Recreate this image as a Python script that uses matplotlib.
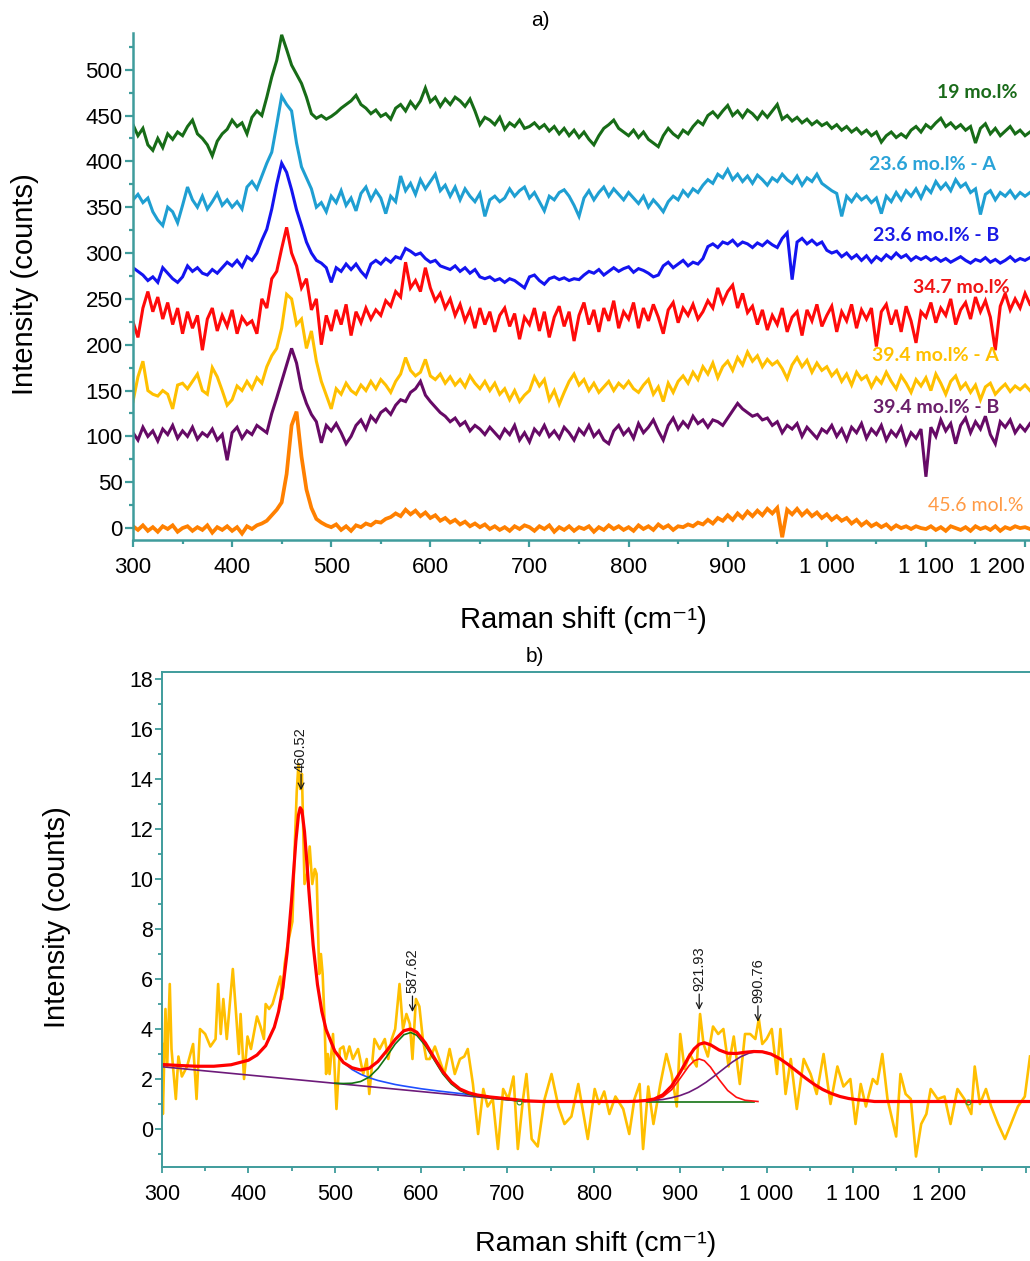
import numpy as np
import matplotlib
matplotlib.use("Agg")
import matplotlib.pyplot as plt
from matplotlib.ticker import MultipleLocator

plt.rcParams['font.family'] = ['Liberation Sans', 'DejaVu Sans']

# ---------------- panel a: stacked Raman spectra (read every 5 cm-1) ----------------
shiftA = np.arange(300, 1210, 5)

green19 = [440, 428, 436, 418, 412, 425, 415, 430, 424, 432, 428, 438, 445, 430, 425, 418, 406, 422, 430, 435,
           445, 438, 442, 430, 448, 455, 450, 470, 492, 510, 538, 522, 505, 495, 485, 470, 452, 447, 450, 446,
           449, 453, 458, 462, 466, 472, 462, 458, 452, 456, 449, 452, 446, 458, 462, 455, 465, 458, 466, 480,
           465, 470, 460, 468, 462, 470, 466, 460, 468, 455, 440, 448, 445, 440, 448, 435, 442, 438, 445, 436,
           438, 442, 436, 440, 433, 438, 430, 436, 428, 434, 426, 432, 424, 418, 428, 436, 440, 445, 436, 432,
           428, 434, 426, 432, 424, 420, 416, 428, 436, 430, 426, 434, 430, 438, 444, 440, 450, 454, 448, 455,
           461, 450, 455, 448, 456, 452, 446, 454, 448, 455, 462, 446, 450, 444, 448, 442, 446, 440, 444, 439,
           442, 436, 440, 434, 438, 432, 436, 430, 434, 428, 432, 421, 428, 432, 426, 430, 426, 434, 438, 432,
           440, 436, 442, 447, 438, 442, 436, 440, 434, 438, 420, 436, 441, 430, 436, 428, 433, 438, 430, 434,
           428, 432]

blue236A = [358, 364, 355, 360, 345, 336, 330, 350, 345, 333, 352, 372, 358, 350, 362, 348, 356, 365, 352, 358,
            350, 356, 348, 372, 378, 370, 384, 398, 410, 440, 471, 462, 455, 420, 394, 382, 370, 350, 355, 345,
            362, 355, 368, 352, 360, 346, 365, 372, 358, 368, 360, 343, 362, 356, 384, 368, 376, 364, 380, 370,
            378, 386, 368, 374, 362, 372, 358, 370, 362, 356, 365, 340, 358, 362, 356, 360, 370, 362, 368, 372,
            360, 366, 356, 346, 362, 358, 366, 369, 362, 352, 340, 360, 368, 358, 366, 372, 362, 370, 364, 358,
            366, 360, 354, 362, 350, 358, 352, 345, 356, 362, 358, 368, 362, 370, 366, 374, 380, 376, 386, 382,
            391, 380, 386, 378, 384, 376, 385, 380, 374, 382, 378, 386, 380, 376, 384, 374, 382, 378, 386, 376,
            372, 368, 365, 340, 362, 356, 364, 358, 362, 355, 360, 343, 362, 356, 366, 358, 368, 362, 370, 360,
            372, 366, 378, 370, 376, 368, 380, 372, 376, 366, 370, 342, 364, 368, 358, 366, 362, 368, 360, 366,
            362, 366]

blue236B = [284, 280, 276, 270, 274, 268, 284, 278, 272, 268, 274, 286, 280, 284, 278, 276, 282, 278, 284, 290,
            286, 292, 285, 296, 292, 300, 314, 326, 348, 375, 398, 388, 369, 347, 330, 312, 300, 292, 289, 284,
            268, 284, 280, 288, 282, 288, 280, 274, 288, 292, 288, 294, 290, 296, 294, 305, 302, 298, 300, 294,
            290, 292, 286, 284, 282, 286, 280, 284, 278, 282, 274, 272, 274, 270, 272, 268, 272, 270, 266, 262,
            274, 276, 270, 266, 272, 274, 271, 273, 270, 272, 271, 276, 280, 278, 282, 276, 280, 284, 280, 283,
            285, 279, 283, 281, 278, 274, 276, 286, 290, 284, 288, 292, 286, 290, 288, 294, 307, 310, 306, 312,
            310, 314, 308, 312, 310, 306, 311, 308, 313, 309, 306, 316, 322, 271, 312, 316, 310, 314, 309, 312,
            303, 300, 302, 296, 300, 294, 298, 292, 297, 290, 296, 292, 298, 294, 300, 295, 298, 292, 296, 293,
            296, 292, 295, 291, 294, 290, 293, 296, 292, 289, 293, 291, 295, 290, 293, 289, 292, 296, 291, 294,
            292, 295]

red347 = [225, 208, 240, 258, 236, 252, 228, 246, 222, 240, 212, 236, 218, 232, 194, 228, 240, 215, 232, 220,
          238, 212, 230, 222, 226, 212, 250, 240, 272, 280, 305, 328, 300, 286, 262, 272, 238, 250, 200, 232,
          215, 238, 222, 244, 210, 236, 224, 240, 228, 238, 232, 248, 242, 258, 252, 290, 262, 270, 258, 284,
          262, 248, 256, 240, 250, 232, 244, 226, 238, 218, 240, 222, 236, 214, 232, 240, 220, 234, 206, 230,
          222, 240, 215, 236, 208, 230, 242, 220, 236, 204, 232, 246, 222, 238, 214, 240, 226, 248, 218, 236,
          228, 246, 218, 240, 226, 244, 230, 212, 238, 246, 224, 240, 232, 244, 228, 236, 248, 240, 262, 246,
          258, 265, 240, 256, 235, 242, 222, 238, 216, 232, 222, 240, 214, 230, 236, 210, 238, 226, 244, 220,
          232, 242, 214, 236, 226, 244, 218, 238, 228, 240, 198, 236, 244, 222, 238, 214, 242, 226, 202, 236,
          230, 246, 224, 240, 232, 250, 222, 238, 246, 228, 252, 236, 248, 230, 194, 242, 256, 238, 250, 240,
          256, 244]

yellow394A = [138, 165, 182, 150, 146, 144, 150, 146, 130, 156, 158, 152, 160, 168, 150, 146, 175, 165, 150, 134,
              140, 155, 150, 160, 152, 164, 158, 176, 188, 196, 218, 255, 250, 222, 228, 196, 215, 182, 160, 145,
              130, 152, 146, 158, 150, 146, 156, 150, 160, 152, 162, 156, 148, 160, 168, 186, 172, 166, 170, 184,
              166, 162, 168, 158, 165, 156, 162, 154, 166, 158, 152, 160, 150, 158, 146, 152, 140, 150, 138, 145,
              150, 165, 155, 162, 140, 150, 135, 148, 160, 168, 156, 162, 150, 158, 148, 154, 160, 150, 158, 153,
              160, 152, 148, 156, 162, 146, 154, 138, 158, 148, 160, 166, 158, 170, 162, 176, 168, 180, 164, 176,
              182, 172, 186, 178, 192, 182, 188, 176, 184, 178, 182, 174, 163, 178, 186, 176, 183, 170, 180, 172,
              176, 166, 172, 160, 168, 156, 170, 162, 166, 154, 164, 158, 170, 160, 152, 166, 158, 148, 162, 155,
              164, 150, 168, 158, 146, 160, 166, 152, 158, 148, 156, 140, 154, 158, 146, 152, 157, 149, 155, 151,
              156, 150]

purple394B = [104, 96, 110, 100, 106, 95, 108, 102, 112, 98, 106, 100, 110, 97, 104, 100, 108, 96, 102, 74,
              104, 110, 98, 106, 102, 112, 108, 104, 125, 142, 160, 178, 196, 180, 152, 136, 124, 116, 93, 112,
              106, 114, 104, 92, 100, 112, 118, 108, 122, 116, 126, 130, 124, 134, 140, 138, 148, 152, 160, 145,
              138, 132, 126, 122, 116, 120, 112, 116, 106, 112, 108, 102, 110, 104, 98, 108, 102, 112, 96, 104,
              94, 108, 102, 112, 100, 106, 98, 110, 104, 96, 108, 102, 112, 100, 106, 96, 92, 106, 112, 102,
              108, 98, 114, 104, 110, 118, 106, 96, 112, 120, 108, 116, 110, 122, 114, 118, 110, 118, 116, 112,
              120, 128, 136, 130, 126, 122, 124, 118, 120, 112, 116, 104, 112, 108, 114, 100, 110, 104, 98, 108,
              104, 112, 100, 108, 96, 110, 104, 114, 98, 108, 102, 112, 96, 106, 100, 110, 92, 104, 98, 108,
              56, 110, 100, 118, 106, 114, 92, 112, 120, 104, 116, 108, 122, 102, 92, 116, 110, 118, 104, 112,
              106, 114]

orange456 = [2, -2, 3, -3, 1, -4, 2, -1, 3, -4, 0, 2, -3, 1, -2, 3, -5, 1, -2, 2,
             -3, 1, -6, 2, -1, 3, 5, 8, 14, 20, 28, 59, 112, 127, 78, 42, 22, 10, 6, 3,
             1, 4, -2, 2, -3, 3, 1, 5, 3, 7, 6, 10, 12, 16, 13, 20, 15, 19, 13, 17,
             11, 14, 8, 11, 6, 9, 4, 7, 2, 5, 1, 4, -1, 2, -2, 1, -3, 2, -1, 3,
             1, -3, 2, -1, 3, -4, 1, -2, 2, -3, 1, -1, 2, -4, 1, -2, 3, -1, 2, -2,
             1, -3, 3, -1, 2, -2, 4, 0, 3, -2, 2, 1, 4, 2, 6, 4, 9, 5, 11, 8,
             14, 9, 16, 11, 18, 13, 19, 14, 21, 16, 22, -10, 20, 15, 21, 14, 19, 13, 17, 11,
             15, 9, 13, 8, 11, 5, 9, 3, 7, 2, 5, 1, 4, -1, 3, 0, 2, -1, 2, 0,
             -1, 2, -2, 1, -3, 2, 0, -2, 1, -3, 2, -1, 1, -2, 2, -3, 1, -1, 2, 0,
             1, -1]

seriesA = [green19, blue236A, blue236B, red347, yellow394A, purple394B, orange456]
colorsA = ['#176c17', '#1f9fd2', '#1414f0', '#ff0a0a', '#ffc000', '#660a66', '#ff8000']
widthsA = [2.2, 2.2, 2.2, 2.2, 2.2, 2.2, 2.7]
labelsA = ['19 mo.l%', '23.6 mo.l% - A', '23.6 mo.l% - B', '34.7 mo.l%',
           '39.4 mo.l% - A', '39.4 mo.l% - B', '45.6 mol.%']
labelColors = ['#1a6b1a', '#2aa3d8', '#1a1ae6', '#f01515', '#ffc000', '#6b1f6b', '#ff9a45']
labelPos = [(1111, 475), (1043, 397), (1047, 319), (1087, 262), (1046, 188), (1047, 131), (1102, 25)]
labelBold = [True, True, True, True, True, True, False]

# ---------------- panel b: spectrum with peak fit ----------------
xb = [300, 301, 304, 306, 309, 311, 316, 319, 323, 329, 336, 340, 344, 350, 356, 362, 365, 368, 371, 375,
      382, 386, 389, 391, 395, 399, 403, 410, 414, 418, 420, 424, 428, 433, 437, 439, 442, 445, 448, 451,
      454, 456, 458, 460, 462, 465, 468, 471, 474, 477, 479, 482, 484, 486, 488, 490, 492, 494, 498, 502,
      506, 510, 513, 517, 521, 527, 533, 537, 540, 546, 552, 558, 562, 566, 570, 575, 579, 583, 587, 590,
      594, 598, 602, 606, 610, 616, 621, 627, 633, 639, 645, 650, 654, 660, 666, 672, 677, 683, 689, 695,
      701, 707, 712, 718, 722, 728, 735, 743, 751, 759, 766, 774, 782, 788, 793, 801, 806, 812, 818, 825,
      834, 841, 847, 853, 857, 863, 869, 877, 884, 890, 896, 900, 905, 911, 919, 923, 927, 932, 938, 944,
      950, 956, 962, 969, 975, 981, 987, 991, 995, 1000, 1006, 1012, 1016, 1022, 1028, 1035, 1043, 1051, 1058, 1066,
      1074, 1082, 1089, 1097, 1103, 1109, 1115, 1123, 1128, 1134, 1140, 1150, 1155, 1161, 1167, 1173, 1179, 1185, 1190, 1198,
      1206, 1213, 1221, 1229, 1237, 1241, 1247, 1254, 1260, 1268, 1276, 1283, 1291, 1299, 1305]
yb = [3.4, 0.6, 4.8, 2.5, 5.8, 3.2, 1.2, 2.9, 2.1, 2.5, 3.4, 1.2, 4.0, 3.8, 3.3, 3.6, 5.8, 3.8, 5.2, 3.6,
      6.4, 4.5, 3.0, 4.6, 2.0, 3.7, 3.2, 4.5, 4.1, 3.6, 5.0, 4.8, 5.0, 5.6, 6.1, 5.2, 6.6, 7.3, 7.8, 8.3,
      11.6, 13.5, 14.6, 13.6, 14.2, 9.8, 10.2, 11.3, 9.8, 10.4, 10.2, 6.2, 7.0, 6.2, 4.5, 2.2, 3.0, 2.2, 3.8, 0.8,
      3.2, 3.3, 2.8, 3.3, 2.8, 3.2, 2.2, 2.8, 1.4, 3.6, 3.2, 3.6, 2.8, 3.6, 4.0, 5.8, 4.0, 4.6, 4.2, 2.8,
      5.2, 4.9, 3.6, 2.8, 2.8, 3.3, 2.8, 2.2, 3.2, 2.2, 2.8, 2.9, 3.2, 1.8, -0.2, 1.6, 0.9, 1.2, -0.8, 1.6,
      1.2, 2.1, -0.8, 1.2, 2.2, -0.4, -0.7, 1.2, 2.2, 0.9, 0.2, 0.5, 1.8, 0.6, -0.4, 1.6, 1.0, 1.5, 0.6, 1.3,
      0.8, -0.2, 1.2, 1.8, -0.8, 1.7, 0.2, 1.8, 3.0, 2.2, 0.9, 3.8, 2.4, 3.0, 2.5, 4.6, 3.4, 2.9, 4.1, 3.8,
      4.0, 2.5, 3.7, 1.8, 3.8, 3.8, 3.6, 4.4, 3.4, 3.6, 4.0, 2.2, 4.0, 1.4, 2.8, 0.8, 2.8, 2.2, 1.4, 3.0,
      1.0, 2.5, 1.7, 2.0, 0.2, 1.8, 0.9, 2.0, 1.8, 3.0, 1.2, -0.3, 2.2, 1.4, 1.2, -1.1, 0.2, 0.6, 1.6, 1.2,
      1.3, 0.2, 1.6, 1.2, 0.6, 2.5, 1.0, 1.6, 0.9, 0.2, -0.4, 0.2, 0.9, 1.3, 2.9]

# fit curves
fitX = [300, 320, 340, 360, 380, 400, 410, 420, 430, 435, 440, 445, 450, 452, 455, 458, 460, 462, 465, 468,
        470, 475, 480, 485, 490, 500, 510, 520, 530, 540, 550, 560, 570, 580, 588, 595, 605, 615, 625, 635,
        645, 655, 665, 680, 700, 720, 740, 840, 850, 860, 870, 880, 890, 900, 910, 916, 922, 928, 935, 945,
        955, 965, 975, 985, 995, 1005, 1015, 1025, 1035, 1045, 1055, 1065, 1075, 1085, 1095, 1105, 1115, 1125, 1305]
fitY = [2.58, 2.54, 2.51, 2.51, 2.57, 2.75, 2.96, 3.33, 4.07, 4.70, 5.66, 7.10, 9.15, 10.10, 11.52, 12.56, 12.85, 12.74, 11.89, 10.54,
        9.56, 7.36, 5.78, 4.71, 3.98, 3.12, 2.66, 2.45, 2.36, 2.43, 2.70, 3.12, 3.58, 3.93, 4.00, 3.87, 3.44, 2.86, 2.30, 1.88,
        1.60, 1.45, 1.36, 1.28, 1.21, 1.13, 1.10, 1.10, 1.11, 1.14, 1.20, 1.37, 1.72, 2.27, 2.89, 3.20, 3.39, 3.45, 3.37, 3.16,
        3.03, 3.02, 3.07, 3.10, 3.09, 3.00, 2.82, 2.58, 2.31, 2.04, 1.79, 1.58, 1.42, 1.30, 1.22, 1.17, 1.14, 1.10, 1.10]

baseX = [300, 720, 735]
baseY = [2.49, 1.10, 1.10]

peak1X = [490, 500, 510, 520, 530, 540, 550, 560, 570, 580, 590, 600, 620, 640, 660, 680, 700, 720]
peak1Y = [3.98, 3.12, 2.66, 2.38, 2.19, 2.05, 1.94, 1.86, 1.78, 1.72, 1.665, 1.61, 1.52, 1.44, 1.36, 1.28, 1.21, 1.13]

peak2X = [500, 510, 520, 530, 540, 550, 560, 570, 580, 588, 595, 605, 615, 625, 635, 645, 655, 665, 680, 700, 720]
peak2Y = [1.83, 1.82, 1.83, 1.90, 2.08, 2.42, 2.89, 3.40, 3.77, 3.86, 3.75, 3.33, 2.77, 2.21, 1.80, 1.54, 1.39, 1.31, 1.24, 1.17, 1.10]
flat2X = [862, 985]
flat2Y = [1.10, 1.10]

peak3X = [860, 870, 880, 890, 900, 910, 916, 922, 928, 935, 945, 955, 965, 975, 990]
peak3Y = [1.11, 1.16, 1.29, 1.57, 2.03, 2.52, 2.73, 2.80, 2.73, 2.48, 1.98, 1.54, 1.27, 1.15, 1.10]

peak4X = [860, 870, 880, 890, 900, 910, 920, 930, 940, 950, 960, 970, 980, 990, 1000]
peak4Y = [1.12, 1.15, 1.18, 1.25, 1.34, 1.47, 1.65, 1.87, 2.13, 2.40, 2.67, 2.89, 3.04, 3.10, 3.06]

anchorX = [713, 1233]
anchorY = [1.10, 1.10]

peakLabels = ['460.52', '587.62', '921.93', '990.76']
peakArrowX = [461, 590, 922, 990]
peakArrowY = [13.55, 4.68, 4.76, 4.29]

teal = '#3f9c9c'
W, H = 1030, 1261

fig = plt.figure(figsize=(W / 100, H / 100), dpi=100)

# ---------- panel a ----------
axA = fig.add_axes([133 / W, 1 - 540 / H, 1 - 133 / W, (540 - 33) / H])
for ys, c, lw in zip(seriesA, colorsA, widthsA):
    axA.plot(shiftA, ys, color=c, lw=lw, solid_joinstyle='miter')

for lab, c, (lx, ly), bold in zip(labelsA, labelColors, labelPos, labelBold):
    axA.text(lx, ly, lab, color=c, fontsize=14, family=['Lato', 'DejaVu Sans'],
             fontweight='bold' if bold else 'normal', ha='left', va='center')

axA.set_xlim(300, 1205)
axA.set_ylim(-13, 540)
axA.spines['top'].set_visible(False)
axA.spines['right'].set_visible(False)
for s in ['left', 'bottom']:
    axA.spines[s].set_color(teal)
    axA.spines[s].set_linewidth(1.8)
ticksA = list(range(300, 1201, 100))
axA.set_xticks(ticksA, [str(t) if t < 1000 else '1 ' + str(t)[1:] for t in ticksA])
axA.xaxis.set_minor_locator(MultipleLocator(50))
axA.set_yticks(range(0, 501, 50))
axA.yaxis.set_minor_locator(MultipleLocator(25))
axA.tick_params(axis='both', which='both', color=teal, width=1.6, direction='out', labelsize=16)
axA.tick_params(axis='y', which='major', length=6, pad=1.5)
axA.tick_params(axis='y', which='minor', length=3)
axA.tick_params(axis='x', which='major', length=5, pad=7)
axA.tick_params(axis='x', which='minor', length=3)
axA.get_xticklabels()[-1].set_ha('right')

fig.text(540 / W, 1 - 20 / H, 'a)', fontsize=15, ha='center', va='center')
fig.text(583 / W, 1 - 620 / H, 'Raman shift (cm⁻¹)', fontsize=21, ha='center', va='center')
fig.text(25 / W, 1 - 284 / H, 'Intensity (counts)', fontsize=21, rotation=90, ha='center', va='center')

# ---------- panel b ----------
axB = fig.add_axes([162 / W, 1 - 1167 / H, 1 - 162 / W, (1167 - 672) / H])
axB.plot(xb, yb, color='#ffbf00', lw=1.9)
axB.plot(baseX, baseY, color='#6d1a7a', lw=1.2)
axB.plot(peak1X, peak1Y, color='#1f4fff', lw=1.2)
axB.plot(peak2X, peak2Y, color='#137313', lw=1.2)
axB.plot(flat2X, flat2Y, color='#137313', lw=1.2)
axB.plot(peak3X, peak3Y, color='#ff1010', lw=1.2)
axB.plot(peak4X, peak4Y, color='#6d1a7a', lw=1.2)
axB.plot(fitX, fitY, color='#ff0000', lw=2.3)
axB.plot(anchorX, anchorY, 'o', ms=3.5, mfc='none', mec='#2a9a2a', mew=0.8)

for lab, px, py in zip(peakLabels, peakArrowX, peakArrowY):
    axB.annotate(lab, xy=(px, py), xytext=(px, py + 0.75), rotation=90, ha='center', va='bottom',
                 fontsize=10.5, color='#1a1a1a',
                 arrowprops=dict(arrowstyle='->', color='#1a1a1a', lw=0.9, shrinkA=0, shrinkB=0))

axB.set_xlim(300, 1305)
axB.set_ylim(-1.52, 18.28)
axB.spines['right'].set_visible(False)
for s in ['left', 'bottom', 'top']:
    axB.spines[s].set_color(teal)
    axB.spines[s].set_linewidth(1.4)
ticksB = list(range(300, 1301, 100))
axB.set_xticks(ticksB, [str(t) if t < 1000 else ('1 ' + str(t)[1:] if t < 1300 else '') for t in ticksB])
axB.xaxis.set_minor_locator(MultipleLocator(50))
axB.set_yticks(range(0, 19, 2))
axB.yaxis.set_minor_locator(MultipleLocator(1))
axB.tick_params(axis='both', which='both', color=teal, width=1.3, direction='out', labelsize=15.5)
axB.tick_params(axis='y', which='major', length=5, pad=1.5)
axB.tick_params(axis='y', which='minor', length=3)
axB.tick_params(axis='x', which='major', length=4, pad=8)
axB.tick_params(axis='x', which='minor', length=3)

fig.text(535 / W, 1 - 657 / H, 'b)', fontsize=15, ha='center', va='center')
fig.text(596 / W, 1 - 1244 / H, 'Raman shift (cm⁻¹)', fontsize=20.5, ha='center', va='center')
fig.text(57 / W, 1 - 917 / H, 'Intensity (counts)', fontsize=21, rotation=90, ha='center', va='center')

fig.savefig('out.png', dpi=100)
